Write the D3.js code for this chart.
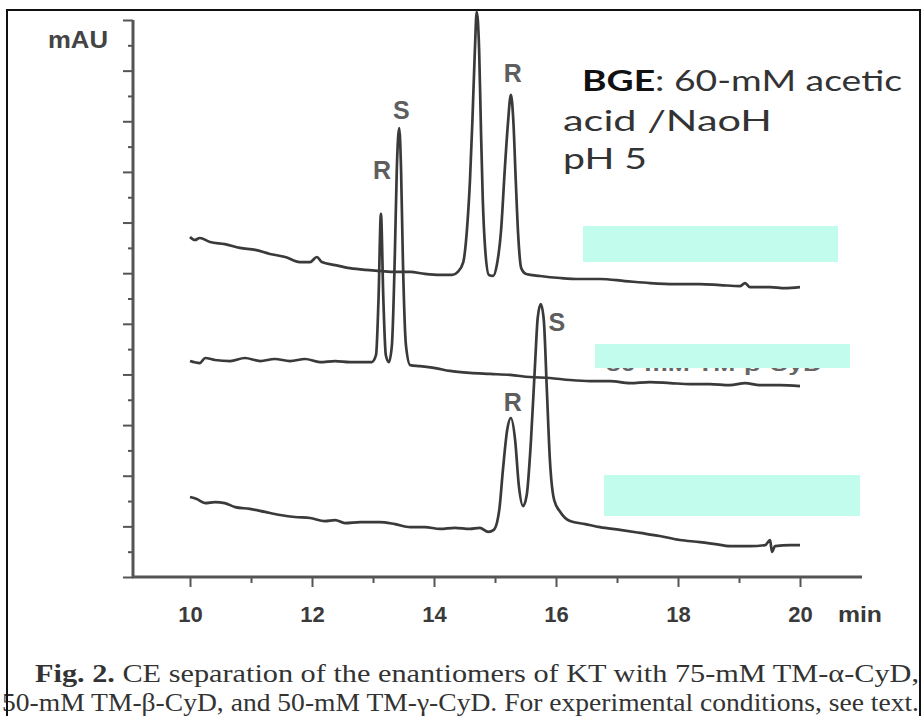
<!DOCTYPE html>
<html>
<head>
<meta charset="utf-8">
<script src="https://cdn.jsdelivr.net/npm/d3@7"></script>
<style>
  html, body { margin: 0; padding: 0; background: #fff; }
  svg { display: block; }
</style>
</head>
<body>
<svg id="chart" width="923" height="716"></svg>
<script>
// Migration time (min) and absorbance (mAU, arbitrary offset units) for the three runs
const alphaTime = [10.00,10.08,10.16,10.33,10.57,10.82,11.07,11.31,11.56,11.80,11.97,12.08,12.16,12.38,12.62,12.87,13.11,13.36,13.61,13.85,14.10,14.30,14.39,14.48,14.54,14.59,14.63,14.67,14.70,14.74,14.77,14.80,14.84,14.90,14.97,15.03,15.10,15.16,15.21,15.26,15.30,15.34,15.38,15.43,15.51,15.74,16.07,16.39,16.72,17.13,17.54,17.95,18.36,18.69,19.02,19.10,19.18,19.51,19.75,20.00];
const alphaSignal = [13.43,13.31,13.39,13.23,13.15,13.00,12.92,12.76,12.64,12.44,12.44,12.64,12.44,12.32,12.20,12.13,12.09,12.05,12.05,11.97,11.93,11.93,12.05,12.44,13.71,15.68,18.05,20.80,22.32,20.80,17.66,14.89,12.92,11.93,11.89,12.32,13.71,16.08,17.85,19.04,18.05,15.68,13.51,12.20,11.97,11.89,11.81,11.77,11.77,11.69,11.61,11.57,11.57,11.53,11.49,11.61,11.45,11.45,11.41,11.45];

const betaTime = [10.00,10.16,10.25,10.41,10.66,10.90,11.15,11.39,11.64,11.89,12.13,12.38,12.62,12.87,12.98,13.05,13.09,13.13,13.17,13.21,13.26,13.31,13.36,13.39,13.43,13.46,13.49,13.54,13.61,13.77,14.02,14.26,14.59,14.92,15.25,15.57,15.90,16.23,16.56,16.89,17.21,17.54,17.87,18.20,18.52,18.85,19.10,19.34,19.67,20.00];
const betaSignal = [8.53,8.45,8.65,8.57,8.53,8.65,8.53,8.61,8.53,8.61,8.49,8.53,8.49,8.49,8.49,8.77,10.94,14.34,10.94,8.77,8.49,9.16,12.92,16.08,17.73,16.08,12.52,9.16,8.37,8.33,8.25,8.14,8.06,8.02,7.98,7.90,7.86,7.78,7.74,7.74,7.66,7.70,7.66,7.62,7.62,7.58,7.66,7.58,7.58,7.54];

const gammaTime = [10.00,10.11,10.25,10.41,10.57,10.74,10.98,11.23,11.48,11.72,11.97,12.21,12.38,12.54,12.79,13.11,13.36,13.61,13.85,14.10,14.34,14.59,14.75,14.89,14.98,15.07,15.13,15.20,15.26,15.33,15.39,15.46,15.52,15.59,15.66,15.70,15.75,15.80,15.85,15.90,15.97,16.07,16.23,16.48,16.72,17.05,17.38,17.70,18.03,18.36,18.61,18.85,19.18,19.43,19.51,19.54,19.59,19.84,20.00];
const gammaSignal = [3.16,3.08,2.92,2.96,2.92,2.76,2.69,2.57,2.45,2.37,2.33,2.21,2.25,2.13,2.17,2.17,2.09,1.97,1.97,1.90,1.94,1.90,1.94,1.78,1.86,2.65,4.23,5.81,6.28,5.41,3.63,2.80,3.24,5.41,8.57,10.23,10.78,10.15,7.39,4.62,3.04,2.57,2.21,2.09,1.97,1.86,1.74,1.62,1.46,1.38,1.30,1.22,1.22,1.26,1.46,0.99,1.22,1.26,1.26];

// Peak annotations: which run, peak time, enantiomer
const peakRun = ["alpha", "beta", "beta", "gamma", "gamma"];
const peakTime = [15.26, 13.13, 13.43, 15.26, 15.75];
const peakName = ["R", "R", "S", "R", "S"];

// Axis ticks
const xTickValues = [10, 11, 12, 13, 14, 15, 16, 17, 18, 19, 20];
const xTickLabels = ["10", "", "12", "", "14", "", "16", "", "18", "", "20"];
const yTickValues = d3.range(0, 23, 1);

// Run labels
const runLabels = ["75-mM TM-\u03b1-CyD", "50-mM TM-\u03b2-CyD", "50-mM TM-\u03b3-CyD"];

const bgeLines = [["BGE", ": 60-mM acetic"], ["", "acid /NaoH"], ["", "pH 5"]];
const captionLine1 = ["Fig. 2.", " CE separation of the enantiomers of KT with 75-mM TM-\u03b1-CyD,"];
const captionLine2 = "50-mM TM-\u03b2-CyD, and 50-mM TM-\u03b3-CyD. For experimental conditions, see text.";

// ---------------------------------------------------------------
const svg = d3.select("#chart");
const plotLeft = 133, plotRight = 862, plotTop = 20, plotBottom = 577;

const x = d3.scaleLinear().domain([10, 20]).range([190, 800]);
const y = d3.scaleLinear().domain([0, 22]).range([plotBottom, plotTop]);

const axisColor = "#555";
const inkColor = "#3a3a3a";

// frame
svg.append("path")
  .attr("d", "M7,716 L7,10 L920,10 L920,716")
  .attr("fill", "none").attr("stroke", "#111").attr("stroke-width", 2);

// y axis
const yAxis = d3.axisLeft(y).tickValues(yTickValues).tickFormat("").tickSizeOuter(0);
const gy = svg.append("g").attr("transform", `translate(${plotLeft},0)`).call(yAxis);
gy.select(".domain").remove();
gy.selectAll(".tick line")
  .attr("x2", d => d % 2 === 0 ? -10 : -5)
  .attr("stroke", axisColor).attr("stroke-width", 2);
svg.append("line")
  .attr("x1", plotLeft).attr("x2", plotLeft)
  .attr("y1", plotTop).attr("y2", plotBottom + 1)
  .attr("stroke", axisColor).attr("stroke-width", 3);

// x axis
const xAxis = d3.axisBottom(x).tickValues(xTickValues)
  .tickFormat((d, i) => xTickLabels[i]).tickSizeOuter(0);
const gx = svg.append("g").attr("transform", `translate(0,${plotBottom})`).call(xAxis);
gx.select(".domain").remove();
gx.selectAll(".tick line")
  .attr("y2", d => d % 2 === 0 ? 10 : 6)
  .attr("stroke", axisColor).attr("stroke-width", 2);
gx.selectAll(".tick text")
  .attr("y", 45).attr("dy", null)
  .attr("font-family", "'Liberation Sans', Arial, sans-serif")
  .attr("font-weight", "bold").attr("font-size", 22)
  .attr("fill", "#3a3a3a");
svg.append("line")
  .attr("x1", plotLeft - 1).attr("x2", plotRight)
  .attr("y1", plotBottom).attr("y2", plotBottom)
  .attr("stroke", axisColor).attr("stroke-width", 3);

svg.append("text")
  .attr("x", 838).attr("y", plotBottom + 45)
  .attr("textLength", 44).attr("lengthAdjust", "spacingAndGlyphs")
  .attr("font-family", "'Liberation Sans', Arial, sans-serif")
  .attr("font-weight", "bold").attr("font-size", 22)
  .attr("fill", "#3a3a3a").text("min");

svg.append("text")
  .attr("x", 48).attr("y", 48)
  .attr("textLength", 60).attr("lengthAdjust", "spacingAndGlyphs")
  .attr("font-family", "'Liberation Sans', Arial, sans-serif")
  .attr("font-weight", "bold").attr("font-size", 23)
  .attr("fill", "#444").text("mAU");

// traces
const runs = {
  alpha: d3.zip(alphaTime, alphaSignal),
  beta: d3.zip(betaTime, betaSignal),
  gamma: d3.zip(gammaTime, gammaSignal)
};
const line = d3.line().x(d => x(d[0])).y(d => y(d[1])).curve(d3.curveMonotoneX);

["gamma", "beta", "alpha"].forEach(k => {
  svg.append("path")
    .datum(runs[k])
    .attr("d", line)
    .attr("fill", "none")
    .attr("stroke", inkColor)
    .attr("stroke-width", 2.7)
    .attr("stroke-linejoin", "round");
});

// peak labels, placed relative to each apex
const labelShift = [[2, -13], [1, -35], [2, -9], [2, -7], [16, 27]];
peakTime.forEach((t, i) => {
  const pts = runs[peakRun[i]];
  const apex = pts.reduce((a, b) => Math.abs(b[0] - t) < Math.abs(a[0] - t) ? b : a);
  svg.append("text")
    .attr("x", x(t) + labelShift[i][0])
    .attr("y", y(apex[1]) + labelShift[i][1])
    .attr("text-anchor", "middle")
    .attr("font-family", "'Liberation Sans', Arial, sans-serif")
    .attr("font-weight", "bold")
    .attr("font-size", 25)
    .attr("fill", "#5e5e5e")
    .text(peakName[i]);
});

// run labels, masked by highlight boxes
const runLabelPos = [[602, 254, 222], [606, 371, 216], [607, 512, 216]];
const maskBoxes = [[583, 226, 255, 36], [595, 344, 255, 24], [604, 475, 256, 41]];
runLabels.forEach((s, i) => {
  svg.append("text")
    .attr("x", runLabelPos[i][0]).attr("y", runLabelPos[i][1])
    .attr("textLength", runLabelPos[i][2]).attr("lengthAdjust", "spacingAndGlyphs")
    .attr("font-family", "'Liberation Sans', Arial, sans-serif")
    .attr("font-weight", "bold").attr("font-size", 21)
    .attr("fill", "#666").text(s);
});
maskBoxes.forEach(b => {
  svg.append("rect")
    .attr("x", b[0]).attr("y", b[1]).attr("width", b[2]).attr("height", b[3])
    .attr("fill", "#c1fced");
});

// buffer description
const bgeX = [582, 563, 563];
const bgeY = [91, 131, 169];
const bgeW = [320, 209, 84];
bgeLines.forEach((parts, i) => {
  const t = svg.append("text")
    .attr("x", bgeX[i]).attr("y", bgeY[i])
    .attr("textLength", bgeW[i]).attr("lengthAdjust", "spacingAndGlyphs")
    .attr("font-family", "'Lato', 'Noto Sans', sans-serif")
    .attr("font-size", 28)
    .attr("fill", "#333");
  if (parts[0]) t.append("tspan").attr("font-weight", "bold").attr("fill", "#111").text(parts[0]);
  t.append("tspan").text(parts[1]);
});

// caption
const cap1 = svg.append("text")
  .attr("x", 35).attr("y", 682)
  .attr("textLength", 884).attr("lengthAdjust", "spacingAndGlyphs")
  .attr("font-family", "'Liberation Serif', 'Times New Roman', serif")
  .attr("font-size", 25).attr("fill", "#333");
cap1.append("tspan").attr("font-weight", "bold").text(captionLine1[0]);
cap1.append("tspan").text(captionLine1[1]);

svg.append("text")
  .attr("x", 2).attr("y", 711)
  .attr("textLength", 917).attr("lengthAdjust", "spacingAndGlyphs")
  .attr("font-family", "'Liberation Serif', 'Times New Roman', serif")
  .attr("font-size", 25).attr("fill", "#333")
  .text(captionLine2);

// redraw the left frame edge over the caption
svg.append("line").attr("x1", 7).attr("x2", 7).attr("y1", 10).attr("y2", 716)
  .attr("stroke", "#111").attr("stroke-width", 2);
</script>
</body>
</html>
